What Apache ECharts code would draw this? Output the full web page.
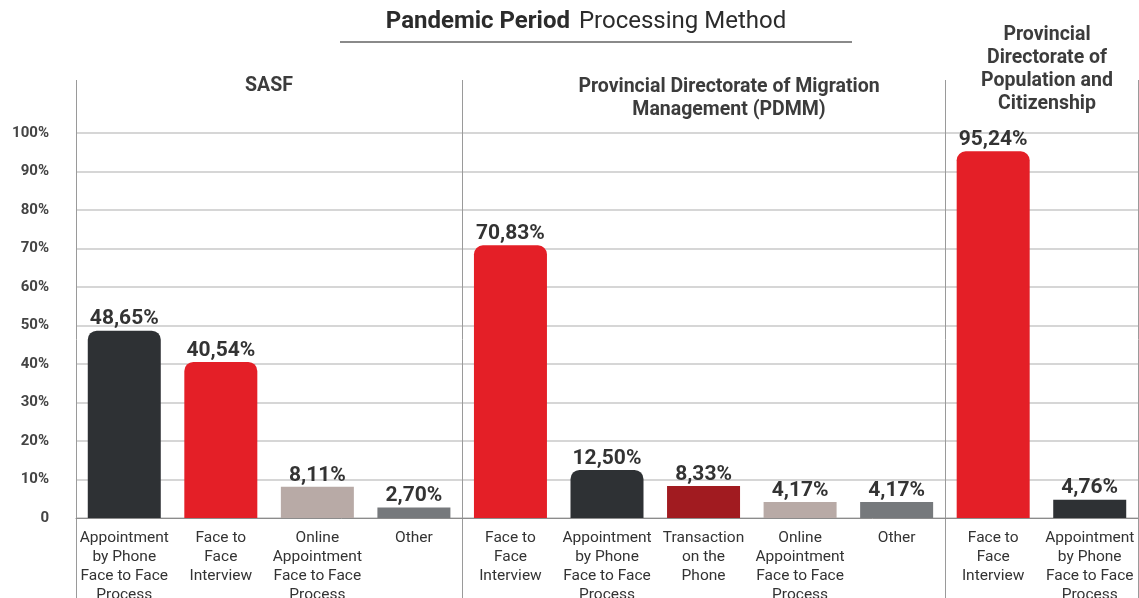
<!DOCTYPE html>
<html>
<head>
<meta charset="utf-8">
<title>Pandemic Period Processing Method</title>
<script src="https://cdn.jsdelivr.net/npm/echarts@6/dist/echarts.min.js"></script>
<style>
  html, body { margin: 0; padding: 0; background: #fff; }
  #chart { width: 1139px; height: 598px; }
</style>
</head>
<body>
<div id="chart"></div>
<script>
// data
var groupNames = ['SASF', 'Provincial Directorate of Migration\nManagement (PDMM)', 'Provincial\nDirectorate of\nPopulation and\nCitizenship'];
var groupSizes = [4, 5, 2];
var methods = [
  'Appointment\nby Phone\nFace to Face\nProcess', 'Face to\nFace\nInterview', 'Online\nAppointment\nFace to Face\nProcess', 'Other',
  'Face to\nFace\nInterview', 'Appointment\nby Phone\nFace to Face\nProcess', 'Transaction\non the\nPhone', 'Online\nAppointment\nFace to Face\nProcess', 'Other',
  'Face to\nFace\nInterview', 'Appointment\nby Phone\nFace to Face\nProcess'
];
var shares = [48.65, 40.54, 8.11, 2.70, 70.83, 12.50, 8.33, 4.17, 4.17, 95.24, 4.76];
var yMin = 0, yMax = 100, yStep = 10;

var methodColor = {
  'Appointment': '#2e3134',
  'Face to': '#e41f27',
  'Online': '#b8aaa6',
  'Other': '#76797c',
  'Transaction': '#a11b20'
};
function colorOf(name){
  var first = name.split('\n')[0];
  return methodColor[first];
}

// boundaries where group separators go
var bounds = [0];
for(var g=0; g<groupSizes.length; g++){
  bounds.push(bounds[bounds.length-1] + groupSizes[g]);
}

var barData = [];
for(var i=0;i<shares.length;i++){
  barData.push({
    value: shares[i],
    itemStyle: {
      color: colorOf(methods[i]),
      borderRadius: shares[i] > 10 ? [9, 9, 0, 0] : 0
    }
  });
}

var fontFam = 'Roboto, "Noto Sans", sans-serif';
var headStyle = { fontFamily: fontFam, fontSize: 19.5, fontWeight: 'bold', color: '#3c3c3c', lineHeight: 23 };
var chart = echarts.init(document.getElementById('chart'));
var option = {
  animation: false,
  textStyle: { fontFamily: fontFam },
  title: [
    {
      text: '{b|Pandemic Period}  {r|Processing Method}',
      left: 586, top: 8, textAlign: 'center', padding: 0,
      textStyle: {
        fontWeight: 'normal',
        rich: {
          b: { fontFamily: fontFam, fontSize: 24, fontWeight: 'bold', color: '#2b2b2b', lineHeight: 28 },
          r: { fontFamily: fontFam, fontSize: 24, fontWeight: 'normal', color: '#2b2b2b', lineHeight: 28 }
        }
      }
    },
    { text: groupNames[0], left: 269, top: 75, textAlign: 'center', padding: 0, textStyle: headStyle },
    { text: groupNames[1], left: 729, top: 75.5, textAlign: 'center', padding: 0, textStyle: headStyle },
    { text: groupNames[2], left: 1047, top: 24, textAlign: 'center', padding: 0, textStyle: headStyle }
  ],
  graphic: [{
    type: 'line',
    shape: { x1: 340, y1: 42, x2: 852, y2: 42 },
    style: { stroke: '#8a8a8a', lineWidth: 2 }
  }],
  grid: [
    { left: 76, top: 133, width: 1062, height: 385, outerBoundsMode: 'none', containLabel: false },
    { left: 76, top: 80, width: 1062, height: 530, outerBoundsMode: 'none', containLabel: false }
  ],
  xAxis: [
    {
      type: 'category', gridIndex: 0, data: methods,
      axisLine: { lineStyle: { color: '#8c8c8c', width: 1 } },
      axisTick: { show: false },
      splitLine: { show: false },
      axisLabel: {
        interval: 0, margin: 11, color: '#333', fontSize: 15.5, lineHeight: 19,
        fontFamily: fontFam
      }
    },
    {
      type: 'category', gridIndex: 1, data: methods,
      axisLine: { show: false }, axisTick: { show: false }, axisLabel: { show: false },
      splitLine: {
        show: true,
        interval: function(idx){ return bounds.indexOf(idx) >= 0; },
        lineStyle: { color: '#9a9a9a', width: 1 }
      }
    }
  ],
  yAxis: [
    {
      type: 'value', gridIndex: 0, min: yMin, max: yMax, interval: yStep,
      axisLine: { show: false }, axisTick: { show: false },
      splitLine: { lineStyle: { color: '#c9c9c9', width: 1.5 } },
      axisLabel: {
        margin: 27, color: '#444', fontSize: 15, fontWeight: 'bold', fontFamily: fontFam,
        formatter: function(v){ return v === 0 ? '0' : v + '%'; }
      }
    },
    { type: 'value', gridIndex: 1, show: false, min: 0, max: 1 }
  ],
  series: [{
    type: 'bar',
    xAxisIndex: 0, yAxisIndex: 0,
    data: barData,
    barWidth: 73,
    label: {
      show: true, position: 'top', distance: 1,
      color: '#333', fontSize: 21, fontWeight: 'bold', fontFamily: fontFam,
      formatter: function(p){ return p.value.toFixed(2).replace('.', ',') + '%'; }
    }
  }]
};
chart.setOption(option);
</script>
</body>
</html>
